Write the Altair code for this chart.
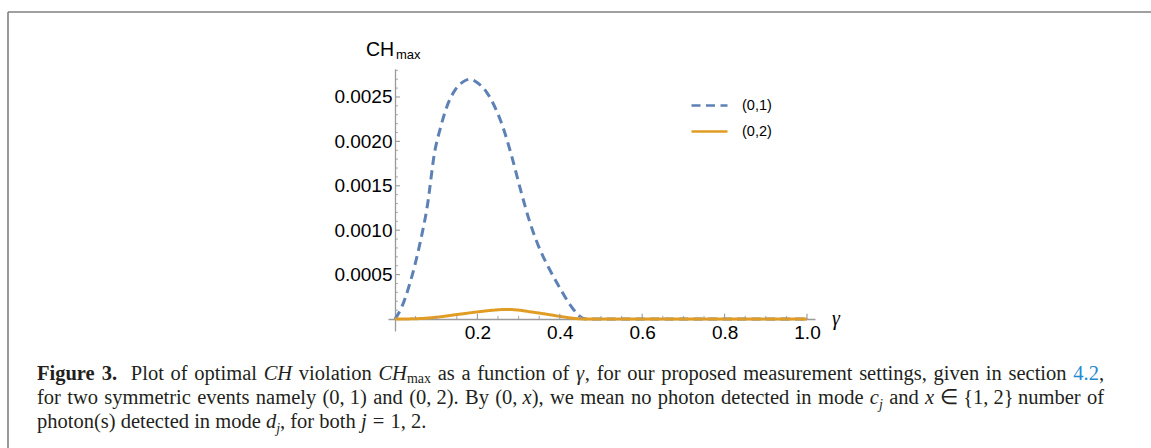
import altair as alt
import pandas as pd

# ---------------- data ----------------
series_names = ["(0,1)", "(0,2)"]

gamma_01 = [0.0, 0.015, 0.036, 0.061, 0.078, 0.097, 0.109, 0.125, 0.146, 0.165,
            0.182, 0.2, 0.223, 0.245, 0.262, 0.284, 0.305, 0.328, 0.352, 0.375,
            0.4, 0.425, 0.44, 0.455, 0.465, 0.6, 0.8, 1.0]
ch_01 = [0.0, 0.00012, 0.0004, 0.00086, 0.00126, 0.0019, 0.00213, 0.00238, 0.00258, 0.00267,
         0.0027, 0.00266, 0.00255, 0.00236, 0.00216, 0.00182, 0.00145, 0.00108, 0.00078, 0.00056,
         0.00035, 0.00016, 0.00007, 0.00001, 0.0, 0.0, 0.0, 0.0]

gamma_02 = [0.0, 0.05, 0.1, 0.15, 0.2, 0.24, 0.27, 0.3, 0.33, 0.36, 0.4, 0.43, 0.45,
            0.47, 0.6, 0.8, 1.0]
ch_02 = [0.0, 0.000003, 0.00002, 0.00005, 0.00008, 0.0001, 0.000108, 0.0001, 0.00008,
         0.00006, 0.00003, 0.00001, 0.000002, 0.0, 0.0, 0.0, 0.0]

x_tick_labels = [0.2, 0.4, 0.6, 0.8, 1.0]
x_minor_ticks = [0.05, 0.1, 0.15, 0.25, 0.3, 0.35, 0.45, 0.5, 0.55, 0.65, 0.7, 0.75,
                 0.85, 0.9, 0.95]
y_tick_labels = [0.0005, 0.0010, 0.0015, 0.0020, 0.0025]
y_minor_ticks = [0.0001, 0.0002, 0.0003, 0.0004, 0.0006, 0.0007, 0.0008, 0.0009,
                 0.0011, 0.0012, 0.0013, 0.0014, 0.0016, 0.0017, 0.0018, 0.0019,
                 0.0021, 0.0022, 0.0023, 0.0024, 0.0026, 0.0027, 0.0028]

# ---------------- layout ----------------
FW, FH = 1151, 448
L, T = 388, 69          # plot area origin on the page
W, H = 427, 262         # plot area size
X_DOM = [-0.017, 1.0194]
Y_DOM = [-0.000135, 0.002815]
BLUE, ORANGE = "#5E81B5", "#E19C24"
AXIS_GRAY = "#9a9a9a"
SANS = "Liberation Sans"
SERIF = "Liberation Serif"
TEXT = "#231f20"
LINK = "#1f8bd0"

df01 = pd.DataFrame({"gamma": gamma_01, "ch": ch_01, "series": series_names[0]})
df02 = pd.DataFrame({"gamma": gamma_02, "ch": ch_02, "series": series_names[1]})

xs = alt.Scale(domain=X_DOM, nice=False, zero=False)
ys = alt.Scale(domain=Y_DOM, nice=False, zero=False)

x_axis = alt.Axis(values=x_tick_labels, format=".1f", ticks=False, grid=False,
                  domainColor=AXIS_GRAY, domainWidth=1.3, offset=-12,
                  labelFont=SANS, labelFontSize=19, labelColor="black",
                  labelPadding=4, title=None)
y_axis = alt.Axis(values=y_tick_labels, format=".4f", ticks=False, grid=False,
                  domainColor=AXIS_GRAY, domainWidth=1.3, offset=-7,
                  labelFont=SANS, labelFontSize=19, labelColor="black",
                  labelPadding=3, title=None)

leg = dict(orient="none", legendX=302, legendY=17, title=None,
           symbolType="stroke", symbolSize=1296, symbolStrokeWidth=2.5,
           labelFont=SANS, labelFontSize=14.5, labelColor="black",
           labelOffset=13, rowPadding=-7, padding=0)
color = alt.Color("series:N", scale=alt.Scale(domain=series_names, range=[BLUE, ORANGE]),
                  legend=alt.Legend(**leg))
dash = alt.StrokeDash("series:N",
                      scale=alt.Scale(domain=series_names, range=[[9, 5.5], [1, 0]]),
                      legend=alt.Legend(**leg))

def series_line(df):
    return alt.Chart(df).mark_line(strokeWidth=3, interpolate="monotone").encode(
        x=alt.X("gamma:Q", scale=xs, axis=x_axis),
        y=alt.Y("ch:Q", scale=ys, axis=y_axis),
        color=color, strokeDash=dash)

line01 = series_line(df01)
line02 = series_line(df02)

# inward ticks (Mathematica style)
def xticks(vals, length, width):
    return alt.Chart(pd.DataFrame({"gamma": vals})).mark_rule(
        color=AXIS_GRAY, strokeWidth=width).encode(
        x=alt.X("gamma:Q", scale=xs, axis=x_axis),
        y=alt.YDatum(0.0, scale=ys, axis=y_axis), y2=alt.Y2Datum(length))

def yticks(vals, length, width):
    return alt.Chart(pd.DataFrame({"ch": vals})).mark_rule(
        color=AXIS_GRAY, strokeWidth=width).encode(
        y=alt.Y("ch:Q", scale=ys, axis=y_axis),
        x=alt.XDatum(0.0, scale=xs, axis=x_axis), x2=alt.X2Datum(length))

tick_layers = [xticks(x_tick_labels, 0.00006, 1.1), xticks(x_minor_ticks, 0.000035, 0.9),
               yticks(y_tick_labels, 0.012, 1.1), yticks(y_minor_ticks, 0.007, 0.9)]

one = alt.Data(values=[{"k": 0}])

def txt(s, x, y, size=17, style="normal", weight="normal", color=TEXT, font=SERIF,
        baseline="alphabetic", align="left"):
    return alt.Chart(one).mark_text(align=align, baseline=baseline, font=font,
                                    fontSize=size, fontStyle=style, fontWeight=weight,
                                    color=color).encode(
        x=alt.value(x - L), y=alt.value(y - T), text=alt.value(s))

def rule(x1, y1, x2, y2, color="#808080", width=1.6):
    return alt.Chart(one).mark_rule(color=color, strokeWidth=width).encode(
        x=alt.value(x1 - L), y=alt.value(y1 - T), x2=alt.value(x2 - L), y2=alt.value(y2 - T))

# ---------------- caption typesetting (justified like the journal page) ----------------
# Times-compatible advance widths (1/1000 em) used only to lay the caption out
ROMAN = {" ": 250, "(": 333, ")": 333, ",": 250, ".": 250, "=": 564, "{": 480, "}": 480,
         "∈": 820, "γ": 430, "B": 667, "C": 667, "H": 722, "P": 556, "F": 556,
         "a": 444, "b": 500, "c": 444, "d": 500, "e": 444, "f": 333, "g": 500, "h": 500,
         "i": 278, "j": 278, "k": 500, "l": 278, "m": 778, "n": 500, "o": 500, "p": 500,
         "q": 500, "r": 333, "s": 389, "t": 278, "u": 500, "v": 500, "w": 722, "x": 500,
         "y": 500, "z": 444}
ITALIC = dict(ROMAN, **{"a": 500, "x": 444, "f": 278, "C": 667, "H": 722, "γ": 430})
BOLD = dict(ROMAN, **{"F": 611, "u": 556, "r": 444, "g": 500, "e": 444, "i": 278})
for d in "0123456789":
    ROMAN[d] = ITALIC[d] = BOLD[d] = 500

FS = 20.5
SUB = 14

def run_width(text, style, weight, size):
    table = BOLD if weight == "bold" else (ITALIC if style == "italic" else ROMAN)
    return sum(table.get(ch, 500) for ch in text) / 1000.0 * size

def R(t, **kw):
    return dict(t=t, style=kw.get("style", "normal"), weight=kw.get("weight", "normal"),
                size=kw.get("size", FS), dy=kw.get("dy", 0), color=kw.get("color", TEXT))

def I(t):
    return R(t, style="italic")

def S(t, italic=False):
    return R(t, style="italic" if italic else "normal", size=SUB, dy=3 if not italic else 5)

def set_line(words, base, x0, x1=None, extra_after=None):
    extra_after = extra_after or {}
    widths = [sum(run_width(r["t"], r["style"], r["weight"], r["size"]) for r in w)
              for w in words]
    space = 0.25 * FS
    fixed = sum(extra_after.values())
    natural = sum(widths) + space * (len(words) - 1) + fixed
    gap = space if x1 is None else space + (x1 - x0 - natural) / (len(words) - 1)
    layers, x = [], x0
    for k, w in enumerate(words):
        cx = x
        for r in w:
            s = r["t"]
            lead = len(s) - len(s.lstrip(" "))
            shift = lead * 0.3 * r["size"]
            layers.append(txt(s.strip(" "), cx + shift, base + r["dy"], size=r["size"],
                              style=r["style"], weight=r["weight"], color=r["color"]))
            cx += run_width(s, r["style"], r["weight"], r["size"]) + (shift - lead * 0.25 * r["size"])
        x += widths[k] + gap + extra_after.get(k, 0)
    return layers

line1 = [[R("Figure", weight="bold")], [R("3.", weight="bold")], [R("Plot")], [R("of")],
         [R("optimal")], [I("CH")], [R("violation")], [I("CH"), S("max")], [R("as")],
         [R("a")], [R("function")], [R("of")], [I("γ"), R(",")], [R("for")], [R("our")],
         [R("proposed")], [R("measurement")], [R("settings,")], [R("given")], [R("in")],
         [R("section")], [R("4.2", color=LINK), R(",")]]
line2 = [[R("for")], [R("two")], [R("symmetric")], [R("events")], [R("namely")],
         [R("(0, 1)")], [R("and")], [R("(0, 2).")], [R("By")], [R("(0, "), I("x"), R("),")],
         [R("we")], [R("mean")], [R("no")], [R("photon")], [R("detected")], [R("in")],
         [R("mode")], [I("c"), S("j", italic=True)], [R("and")],
         [I("x"), R(" ∈"), R(" {1, 2}")], [R("number")], [R("of")]]
line3 = [[R("photon(s)")], [R("detected")], [R("in")], [R("mode")],
         [I("d"), S("j", italic=True), R(",")], [R("for")], [R("both")],
         [I("j"), R(" ="), R(" 1, 2.")]]

B1, B2, B3 = 380, 404, 428
X0, X1 = 37, 1104
caption = (set_line(line1, B1, X0, X1, extra_after={1: 7}) +
           set_line(line2, B2, X0, X1) +
           set_line(line3, B3, X0))

# axis titles
titles = [
    txt("CH", 366, 56, size=19.5, font=SANS, color="black"),
    txt("max", 396, 59, size=13, font=SANS, color="black"),
    txt("γ", 832, 325, size=20, style="italic", color="black"),
]

# frame
frame = [rule(8, 12, FW, 12), rule(8, 12, 8, FH)]

chart = alt.layer(line01, line02, *tick_layers, *titles, *frame, *caption).properties(
    width=W, height=H,
    padding={"left": L, "top": T, "right": FW - L - W, "bottom": FH - T - H},
    autosize=alt.AutoSizeParams(type="none"),
    background="white",
).configure_view(stroke=None)

chart.save("out.html", embed_options={"renderer": "svg", "actions": False})
